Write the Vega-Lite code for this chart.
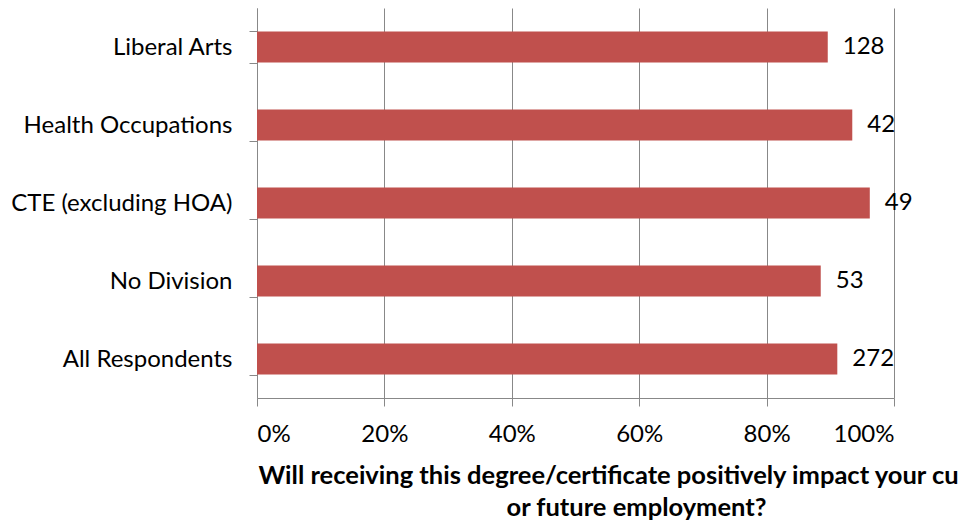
{
  "$schema": "https://vega.github.io/schema/vega-lite/v6.json",
  "autosize": {"type": "none"},
  "padding": {"left": 257, "top": 8, "right": 65, "bottom": 125},
  "width": 637,
  "height": 390,
  "background": "white",
  "data": {
    "values": [
      {"group": "Liberal Arts", "pct": 0.896, "n": 128},
      {"group": "Health Occupations", "pct": 0.9345, "n": 42},
      {"group": "CTE (excluding HOA)", "pct": 0.962, "n": 49},
      {"group": "No Division", "pct": 0.885, "n": 53},
      {"group": "All Respondents", "pct": 0.911, "n": 272}
    ]
  },
  "config": {
    "view": {"stroke": null},
    "font": "Lato",
    "axis": {
      "labelFont": "Lato",
      "labelFontSize": 24,
      "labelColor": "#000000",
      "labelLimit": 0,
      "domainColor": "#888888",
      "tickColor": "#888888",
      "gridColor": "#888888",
      "domainWidth": 1,
      "tickWidth": 1,
      "gridWidth": 1,
      "tickSize": 8
    }
  },
  "encoding": {
    "y": {
      "field": "group",
      "type": "nominal",
      "sort": null,
      "scale": {"paddingInner": 0.6, "paddingOuter": 0.3},
      "axis": {
        "title": null,
        "grid": false,
        "tickBand": "extent",
        "labelPadding": 17
      }
    }
  },
  "layer": [
    {
      "mark": {"type": "bar", "color": "#C0504D"},
      "encoding": {
        "x": {
          "field": "pct",
          "type": "quantitative",
          "scale": {"domain": [0, 1], "nice": false},
          "axis": {
            "format": ".0%",
            "values": [0, 0.2, 0.4, 0.6, 0.8, 1],
            "grid": true,
            "labelPadding": 16,
            "title": ["Will receiving this degree/certificate positively impact your current", "or future employment?"],
            "titleFont": "Lato",
            "titleFontSize": 25.5,
            "titleFontWeight": "bold",
            "titleColor": "#000000",
            "titleX": 379,
            "titleY": 65,
            "titleBaseline": "top",
            "titleLineHeight": 32
          }
        }
      }
    },
    {
      "mark": {"type": "text", "align": "left", "baseline": "middle", "dx": 15, "fontSize": 24, "color": "#000000", "font": "Lato"},
      "encoding": {
        "x": {"field": "pct", "type": "quantitative"},
        "text": {"field": "n", "type": "quantitative"}
      }
    }
  ]
}
